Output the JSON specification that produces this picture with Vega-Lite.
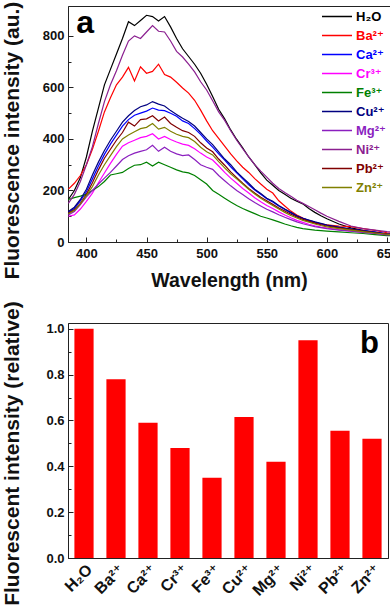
{
  "$schema": "https://vega.github.io/schema/vega-lite/v6.json",
  "padding": {"left": 0, "top": 0, "right": 0, "bottom": 0},
  "bounds": "flush",
  "spacing": 81,
  "resolve": {"legend": {"color": "independent"}, "scale": {"x": "independent", "y": "independent"}},
  "config": {
    "font": "Liberation Sans, DejaVu Sans",
    "view": {"stroke": "#222", "strokeWidth": 1},
    "axis": {"grid": false, "domainColor": "#222", "tickColor": "#222", "tickSize": -5, "labelFont": "Liberation Sans, DejaVu Sans", "labelFontWeight": "bold", "labelFontSize": 13, "labelColor": "#111", "titleFont": "Liberation Sans, DejaVu Sans", "titleFontWeight": "bold", "titleColor": "#111", "titleFontSize": 21, "labelPadding": 9}
  },
  "vconcat": [
    {
      "width": 322,
      "height": 236,
      "resolve": {"axis": {"x": "independent", "y": "independent"}},
      "layer": [
        {
          "data": {"values": [
        {"ion":"H₂O","wl":385,"I":165},{"ion":"H₂O","wl":390,"I":200},{"ion":"H₂O","wl":395,"I":250},{"ion":"H₂O","wl":400,"I":330},{"ion":"H₂O","wl":405,"I":430},{"ion":"H₂O","wl":410,"I":520},{"ion":"H₂O","wl":415,"I":610},{"ion":"H₂O","wl":420,"I":670},{"ion":"H₂O","wl":425,"I":730},{"ion":"H₂O","wl":430,"I":790},
        {"ion":"H₂O","wl":435,"I":855},{"ion":"H₂O","wl":440,"I":840},{"ion":"H₂O","wl":445,"I":860},{"ion":"H₂O","wl":450,"I":880},{"ion":"H₂O","wl":455,"I":875},{"ion":"H₂O","wl":460,"I":858},{"ion":"H₂O","wl":465,"I":875},{"ion":"H₂O","wl":470,"I":835},{"ion":"H₂O","wl":475,"I":790},{"ion":"H₂O","wl":480,"I":750},
        {"ion":"H₂O","wl":485,"I":720},{"ion":"H₂O","wl":490,"I":690},{"ion":"H₂O","wl":495,"I":655},{"ion":"H₂O","wl":500,"I":612},{"ion":"H₂O","wl":505,"I":565},{"ion":"H₂O","wl":510,"I":515},{"ion":"H₂O","wl":515,"I":478},{"ion":"H₂O","wl":520,"I":435},{"ion":"H₂O","wl":525,"I":398},{"ion":"H₂O","wl":530,"I":365},
        {"ion":"H₂O","wl":535,"I":330},{"ion":"H₂O","wl":540,"I":300},{"ion":"H₂O","wl":545,"I":268},{"ion":"H₂O","wl":550,"I":240},{"ion":"H₂O","wl":555,"I":220},{"ion":"H₂O","wl":560,"I":200},{"ion":"H₂O","wl":565,"I":185},{"ion":"H₂O","wl":570,"I":170},{"ion":"H₂O","wl":575,"I":158},{"ion":"H₂O","wl":580,"I":148},
        {"ion":"H₂O","wl":585,"I":130},{"ion":"H₂O","wl":590,"I":115},{"ion":"H₂O","wl":595,"I":102},{"ion":"H₂O","wl":600,"I":90},{"ion":"H₂O","wl":610,"I":70},{"ion":"H₂O","wl":620,"I":55},{"ion":"H₂O","wl":630,"I":45},{"ion":"H₂O","wl":640,"I":38},{"ion":"H₂O","wl":650,"I":30},{"ion":"H₂O","wl":655,"I":28},

        {"ion":"Ba²⁺","wl":385,"I":205},{"ion":"Ba²⁺","wl":390,"I":228},{"ion":"Ba²⁺","wl":395,"I":258},{"ion":"Ba²⁺","wl":400,"I":300},{"ion":"Ba²⁺","wl":405,"I":360},{"ion":"Ba²⁺","wl":410,"I":430},{"ion":"Ba²⁺","wl":415,"I":505},{"ion":"Ba²⁺","wl":420,"I":560},{"ion":"Ba²⁺","wl":425,"I":610},{"ion":"Ba²⁺","wl":430,"I":640},
        {"ion":"Ba²⁺","wl":435,"I":678},{"ion":"Ba²⁺","wl":440,"I":625},{"ion":"Ba²⁺","wl":445,"I":680},{"ion":"Ba²⁺","wl":450,"I":655},{"ion":"Ba²⁺","wl":455,"I":662},{"ion":"Ba²⁺","wl":460,"I":690},{"ion":"Ba²⁺","wl":465,"I":650},{"ion":"Ba²⁺","wl":470,"I":640},{"ion":"Ba²⁺","wl":475,"I":620},{"ion":"Ba²⁺","wl":480,"I":598},
        {"ion":"Ba²⁺","wl":485,"I":578},{"ion":"Ba²⁺","wl":490,"I":550},{"ion":"Ba²⁺","wl":495,"I":512},{"ion":"Ba²⁺","wl":500,"I":470},{"ion":"Ba²⁺","wl":505,"I":432},{"ion":"Ba²⁺","wl":510,"I":402},{"ion":"Ba²⁺","wl":515,"I":372},{"ion":"Ba²⁺","wl":520,"I":342},{"ion":"Ba²⁺","wl":525,"I":315},{"ion":"Ba²⁺","wl":530,"I":290},
        {"ion":"Ba²⁺","wl":535,"I":270},{"ion":"Ba²⁺","wl":540,"I":246},{"ion":"Ba²⁺","wl":545,"I":225},{"ion":"Ba²⁺","wl":550,"I":205},{"ion":"Ba²⁺","wl":555,"I":190},{"ion":"Ba²⁺","wl":560,"I":160},{"ion":"Ba²⁺","wl":565,"I":140},{"ion":"Ba²⁺","wl":570,"I":120},{"ion":"Ba²⁺","wl":575,"I":105},{"ion":"Ba²⁺","wl":580,"I":93},
        {"ion":"Ba²⁺","wl":585,"I":82},{"ion":"Ba²⁺","wl":590,"I":75},{"ion":"Ba²⁺","wl":595,"I":70},{"ion":"Ba²⁺","wl":600,"I":67},{"ion":"Ba²⁺","wl":610,"I":62},{"ion":"Ba²⁺","wl":620,"I":60},{"ion":"Ba²⁺","wl":630,"I":52},{"ion":"Ba²⁺","wl":640,"I":45},{"ion":"Ba²⁺","wl":650,"I":36},{"ion":"Ba²⁺","wl":655,"I":34},

        {"ion":"Ca²⁺","wl":385,"I":115},{"ion":"Ca²⁺","wl":390,"I":130},{"ion":"Ca²⁺","wl":395,"I":160},{"ion":"Ca²⁺","wl":400,"I":195},{"ion":"Ca²⁺","wl":405,"I":245},{"ion":"Ca²⁺","wl":410,"I":295},{"ion":"Ca²⁺","wl":415,"I":340},{"ion":"Ca²⁺","wl":420,"I":380},{"ion":"Ca²⁺","wl":425,"I":415},{"ion":"Ca²⁺","wl":430,"I":450},
        {"ion":"Ca²⁺","wl":435,"I":475},{"ion":"Ca²⁺","wl":440,"I":492},{"ion":"Ca²⁺","wl":445,"I":500},{"ion":"Ca²⁺","wl":450,"I":508},{"ion":"Ca²⁺","wl":455,"I":520},{"ion":"Ca²⁺","wl":460,"I":512},{"ion":"Ca²⁺","wl":465,"I":510},{"ion":"Ca²⁺","wl":470,"I":500},{"ion":"Ca²⁺","wl":475,"I":488},{"ion":"Ca²⁺","wl":480,"I":470},
        {"ion":"Ca²⁺","wl":485,"I":460},{"ion":"Ca²⁺","wl":490,"I":440},{"ion":"Ca²⁺","wl":495,"I":418},{"ion":"Ca²⁺","wl":500,"I":392},{"ion":"Ca²⁺","wl":505,"I":368},{"ion":"Ca²⁺","wl":510,"I":342},{"ion":"Ca²⁺","wl":515,"I":318},{"ion":"Ca²⁺","wl":520,"I":292},{"ion":"Ca²⁺","wl":525,"I":268},{"ion":"Ca²⁺","wl":530,"I":245},
        {"ion":"Ca²⁺","wl":535,"I":222},{"ion":"Ca²⁺","wl":540,"I":202},{"ion":"Ca²⁺","wl":545,"I":185},{"ion":"Ca²⁺","wl":550,"I":168},{"ion":"Ca²⁺","wl":555,"I":155},{"ion":"Ca²⁺","wl":560,"I":140},{"ion":"Ca²⁺","wl":565,"I":126},{"ion":"Ca²⁺","wl":570,"I":113},{"ion":"Ca²⁺","wl":575,"I":100},{"ion":"Ca²⁺","wl":580,"I":92},
        {"ion":"Ca²⁺","wl":585,"I":84},{"ion":"Ca²⁺","wl":590,"I":77},{"ion":"Ca²⁺","wl":595,"I":71},{"ion":"Ca²⁺","wl":600,"I":65},{"ion":"Ca²⁺","wl":610,"I":57},{"ion":"Ca²⁺","wl":620,"I":50},{"ion":"Ca²⁺","wl":630,"I":44},{"ion":"Ca²⁺","wl":640,"I":38},{"ion":"Ca²⁺","wl":650,"I":32},{"ion":"Ca²⁺","wl":655,"I":30},

        {"ion":"Cr³⁺","wl":385,"I":100},{"ion":"Cr³⁺","wl":390,"I":105},{"ion":"Cr³⁺","wl":395,"I":128},{"ion":"Cr³⁺","wl":400,"I":158},{"ion":"Cr³⁺","wl":405,"I":190},{"ion":"Cr³⁺","wl":410,"I":230},{"ion":"Cr³⁺","wl":415,"I":268},{"ion":"Cr³⁺","wl":420,"I":305},{"ion":"Cr³⁺","wl":425,"I":340},{"ion":"Cr³⁺","wl":430,"I":372},
        {"ion":"Cr³⁺","wl":435,"I":385},{"ion":"Cr³⁺","wl":440,"I":395},{"ion":"Cr³⁺","wl":445,"I":405},{"ion":"Cr³⁺","wl":450,"I":410},{"ion":"Cr³⁺","wl":455,"I":420},{"ion":"Cr³⁺","wl":460,"I":400},{"ion":"Cr³⁺","wl":465,"I":410},{"ion":"Cr³⁺","wl":470,"I":398},{"ion":"Cr³⁺","wl":475,"I":388},{"ion":"Cr³⁺","wl":480,"I":380},
        {"ion":"Cr³⁺","wl":485,"I":375},{"ion":"Cr³⁺","wl":490,"I":362},{"ion":"Cr³⁺","wl":495,"I":345},{"ion":"Cr³⁺","wl":500,"I":330},{"ion":"Cr³⁺","wl":505,"I":318},{"ion":"Cr³⁺","wl":510,"I":295},{"ion":"Cr³⁺","wl":515,"I":270},{"ion":"Cr³⁺","wl":520,"I":248},{"ion":"Cr³⁺","wl":525,"I":228},{"ion":"Cr³⁺","wl":530,"I":208},
        {"ion":"Cr³⁺","wl":535,"I":190},{"ion":"Cr³⁺","wl":540,"I":172},{"ion":"Cr³⁺","wl":545,"I":156},{"ion":"Cr³⁺","wl":550,"I":142},{"ion":"Cr³⁺","wl":555,"I":130},{"ion":"Cr³⁺","wl":560,"I":117},{"ion":"Cr³⁺","wl":565,"I":105},{"ion":"Cr³⁺","wl":570,"I":94},{"ion":"Cr³⁺","wl":575,"I":84},{"ion":"Cr³⁺","wl":580,"I":76},
        {"ion":"Cr³⁺","wl":585,"I":69},{"ion":"Cr³⁺","wl":590,"I":63},{"ion":"Cr³⁺","wl":595,"I":58},{"ion":"Cr³⁺","wl":600,"I":54},{"ion":"Cr³⁺","wl":610,"I":48},{"ion":"Cr³⁺","wl":620,"I":42},{"ion":"Cr³⁺","wl":630,"I":37},{"ion":"Cr³⁺","wl":640,"I":33},{"ion":"Cr³⁺","wl":650,"I":28},{"ion":"Cr³⁺","wl":655,"I":27},

        {"ion":"Fe³⁺","wl":385,"I":165},{"ion":"Fe³⁺","wl":390,"I":172},{"ion":"Fe³⁺","wl":395,"I":178},{"ion":"Fe³⁺","wl":400,"I":185},{"ion":"Fe³⁺","wl":405,"I":200},{"ion":"Fe³⁺","wl":410,"I":215},{"ion":"Fe³⁺","wl":415,"I":235},{"ion":"Fe³⁺","wl":420,"I":260},{"ion":"Fe³⁺","wl":425,"I":265},{"ion":"Fe³⁺","wl":430,"I":270},
        {"ion":"Fe³⁺","wl":435,"I":285},{"ion":"Fe³⁺","wl":440,"I":298},{"ion":"Fe³⁺","wl":445,"I":300},{"ion":"Fe³⁺","wl":450,"I":310},{"ion":"Fe³⁺","wl":455,"I":295},{"ion":"Fe³⁺","wl":460,"I":310},{"ion":"Fe³⁺","wl":465,"I":300},{"ion":"Fe³⁺","wl":470,"I":290},{"ion":"Fe³⁺","wl":475,"I":280},{"ion":"Fe³⁺","wl":480,"I":272},
        {"ion":"Fe³⁺","wl":485,"I":268},{"ion":"Fe³⁺","wl":490,"I":258},{"ion":"Fe³⁺","wl":495,"I":242},{"ion":"Fe³⁺","wl":500,"I":225},{"ion":"Fe³⁺","wl":505,"I":200},{"ion":"Fe³⁺","wl":510,"I":185},{"ion":"Fe³⁺","wl":515,"I":170},{"ion":"Fe³⁺","wl":520,"I":155},{"ion":"Fe³⁺","wl":525,"I":142},{"ion":"Fe³⁺","wl":530,"I":130},
        {"ion":"Fe³⁺","wl":535,"I":120},{"ion":"Fe³⁺","wl":540,"I":110},{"ion":"Fe³⁺","wl":545,"I":100},{"ion":"Fe³⁺","wl":550,"I":93},{"ion":"Fe³⁺","wl":555,"I":86},{"ion":"Fe³⁺","wl":560,"I":78},{"ion":"Fe³⁺","wl":565,"I":70},{"ion":"Fe³⁺","wl":570,"I":63},{"ion":"Fe³⁺","wl":575,"I":57},{"ion":"Fe³⁺","wl":580,"I":52},
        {"ion":"Fe³⁺","wl":585,"I":49},{"ion":"Fe³⁺","wl":590,"I":46},{"ion":"Fe³⁺","wl":595,"I":44},{"ion":"Fe³⁺","wl":600,"I":42},{"ion":"Fe³⁺","wl":610,"I":39},{"ion":"Fe³⁺","wl":620,"I":36},{"ion":"Fe³⁺","wl":630,"I":33},{"ion":"Fe³⁺","wl":640,"I":29},{"ion":"Fe³⁺","wl":650,"I":25},{"ion":"Fe³⁺","wl":655,"I":24},

        {"ion":"Cu²⁺","wl":385,"I":118},{"ion":"Cu²⁺","wl":390,"I":135},{"ion":"Cu²⁺","wl":395,"I":165},{"ion":"Cu²⁺","wl":400,"I":205},{"ion":"Cu²⁺","wl":405,"I":260},{"ion":"Cu²⁺","wl":410,"I":310},{"ion":"Cu²⁺","wl":415,"I":355},{"ion":"Cu²⁺","wl":420,"I":395},{"ion":"Cu²⁺","wl":425,"I":430},{"ion":"Cu²⁺","wl":430,"I":465},
        {"ion":"Cu²⁺","wl":435,"I":490},{"ion":"Cu²⁺","wl":440,"I":510},{"ion":"Cu²⁺","wl":445,"I":525},{"ion":"Cu²⁺","wl":450,"I":532},{"ion":"Cu²⁺","wl":455,"I":545},{"ion":"Cu²⁺","wl":460,"I":535},{"ion":"Cu²⁺","wl":465,"I":528},{"ion":"Cu²⁺","wl":470,"I":510},{"ion":"Cu²⁺","wl":475,"I":495},{"ion":"Cu²⁺","wl":480,"I":480},
        {"ion":"Cu²⁺","wl":485,"I":468},{"ion":"Cu²⁺","wl":490,"I":450},{"ion":"Cu²⁺","wl":495,"I":425},{"ion":"Cu²⁺","wl":500,"I":400},{"ion":"Cu²⁺","wl":505,"I":378},{"ion":"Cu²⁺","wl":510,"I":350},{"ion":"Cu²⁺","wl":515,"I":322},{"ion":"Cu²⁺","wl":520,"I":300},{"ion":"Cu²⁺","wl":525,"I":272},{"ion":"Cu²⁺","wl":530,"I":250},
        {"ion":"Cu²⁺","wl":535,"I":228},{"ion":"Cu²⁺","wl":540,"I":205},{"ion":"Cu²⁺","wl":545,"I":188},{"ion":"Cu²⁺","wl":550,"I":170},{"ion":"Cu²⁺","wl":555,"I":158},{"ion":"Cu²⁺","wl":560,"I":142},{"ion":"Cu²⁺","wl":565,"I":128},{"ion":"Cu²⁺","wl":570,"I":115},{"ion":"Cu²⁺","wl":575,"I":102},{"ion":"Cu²⁺","wl":580,"I":92},
        {"ion":"Cu²⁺","wl":585,"I":85},{"ion":"Cu²⁺","wl":590,"I":78},{"ion":"Cu²⁺","wl":595,"I":72},{"ion":"Cu²⁺","wl":600,"I":66},{"ion":"Cu²⁺","wl":610,"I":58},{"ion":"Cu²⁺","wl":620,"I":50},{"ion":"Cu²⁺","wl":630,"I":43},{"ion":"Cu²⁺","wl":640,"I":37},{"ion":"Cu²⁺","wl":650,"I":31},{"ion":"Cu²⁺","wl":655,"I":30},

        {"ion":"Mg²⁺","wl":385,"I":105},{"ion":"Mg²⁺","wl":390,"I":118},{"ion":"Mg²⁺","wl":395,"I":145},{"ion":"Mg²⁺","wl":400,"I":175},{"ion":"Mg²⁺","wl":405,"I":200},{"ion":"Mg²⁺","wl":410,"I":225},{"ion":"Mg²⁺","wl":415,"I":248},{"ion":"Mg²⁺","wl":420,"I":270},{"ion":"Mg²⁺","wl":425,"I":295},{"ion":"Mg²⁺","wl":430,"I":320},
        {"ion":"Mg²⁺","wl":435,"I":335},{"ion":"Mg²⁺","wl":440,"I":345},{"ion":"Mg²⁺","wl":445,"I":352},{"ion":"Mg²⁺","wl":450,"I":358},{"ion":"Mg²⁺","wl":455,"I":375},{"ion":"Mg²⁺","wl":460,"I":352},{"ion":"Mg²⁺","wl":465,"I":368},{"ion":"Mg²⁺","wl":470,"I":352},{"ion":"Mg²⁺","wl":475,"I":342},{"ion":"Mg²⁺","wl":480,"I":335},
        {"ion":"Mg²⁺","wl":485,"I":338},{"ion":"Mg²⁺","wl":490,"I":320},{"ion":"Mg²⁺","wl":495,"I":300},{"ion":"Mg²⁺","wl":500,"I":290},{"ion":"Mg²⁺","wl":505,"I":282},{"ion":"Mg²⁺","wl":510,"I":258},{"ion":"Mg²⁺","wl":515,"I":238},{"ion":"Mg²⁺","wl":520,"I":218},{"ion":"Mg²⁺","wl":525,"I":200},{"ion":"Mg²⁺","wl":530,"I":184},
        {"ion":"Mg²⁺","wl":535,"I":168},{"ion":"Mg²⁺","wl":540,"I":153},{"ion":"Mg²⁺","wl":545,"I":140},{"ion":"Mg²⁺","wl":550,"I":127},{"ion":"Mg²⁺","wl":555,"I":117},{"ion":"Mg²⁺","wl":560,"I":106},{"ion":"Mg²⁺","wl":565,"I":96},{"ion":"Mg²⁺","wl":570,"I":87},{"ion":"Mg²⁺","wl":575,"I":78},{"ion":"Mg²⁺","wl":580,"I":71},
        {"ion":"Mg²⁺","wl":585,"I":65},{"ion":"Mg²⁺","wl":590,"I":60},{"ion":"Mg²⁺","wl":595,"I":56},{"ion":"Mg²⁺","wl":600,"I":52},{"ion":"Mg²⁺","wl":610,"I":46},{"ion":"Mg²⁺","wl":620,"I":42},{"ion":"Mg²⁺","wl":630,"I":37},{"ion":"Mg²⁺","wl":640,"I":33},{"ion":"Mg²⁺","wl":650,"I":28},{"ion":"Mg²⁺","wl":655,"I":27},

        {"ion":"Ni²⁺","wl":385,"I":150},{"ion":"Ni²⁺","wl":390,"I":185},{"ion":"Ni²⁺","wl":395,"I":235},{"ion":"Ni²⁺","wl":400,"I":300},{"ion":"Ni²⁺","wl":405,"I":370},{"ion":"Ni²⁺","wl":410,"I":460},{"ion":"Ni²⁺","wl":415,"I":545},{"ion":"Ni²⁺","wl":420,"I":610},{"ion":"Ni²⁺","wl":425,"I":665},{"ion":"Ni²⁺","wl":430,"I":725},
        {"ion":"Ni²⁺","wl":435,"I":780},{"ion":"Ni²⁺","wl":440,"I":800},{"ion":"Ni²⁺","wl":445,"I":790},{"ion":"Ni²⁺","wl":450,"I":815},{"ion":"Ni²⁺","wl":455,"I":840},{"ion":"Ni²⁺","wl":460,"I":818},{"ion":"Ni²⁺","wl":465,"I":815},{"ion":"Ni²⁺","wl":470,"I":780},{"ion":"Ni²⁺","wl":475,"I":740},{"ion":"Ni²⁺","wl":480,"I":718},
        {"ion":"Ni²⁺","wl":485,"I":690},{"ion":"Ni²⁺","wl":490,"I":660},{"ion":"Ni²⁺","wl":495,"I":622},{"ion":"Ni²⁺","wl":500,"I":590},{"ion":"Ni²⁺","wl":505,"I":548},{"ion":"Ni²⁺","wl":510,"I":505},{"ion":"Ni²⁺","wl":515,"I":472},{"ion":"Ni²⁺","wl":520,"I":432},{"ion":"Ni²⁺","wl":525,"I":395},{"ion":"Ni²⁺","wl":530,"I":362},
        {"ion":"Ni²⁺","wl":535,"I":330},{"ion":"Ni²⁺","wl":540,"I":300},{"ion":"Ni²⁺","wl":545,"I":275},{"ion":"Ni²⁺","wl":550,"I":252},{"ion":"Ni²⁺","wl":555,"I":228},{"ion":"Ni²⁺","wl":560,"I":208},{"ion":"Ni²⁺","wl":565,"I":192},{"ion":"Ni²⁺","wl":570,"I":178},{"ion":"Ni²⁺","wl":575,"I":162},{"ion":"Ni²⁺","wl":580,"I":150},
        {"ion":"Ni²⁺","wl":585,"I":138},{"ion":"Ni²⁺","wl":590,"I":125},{"ion":"Ni²⁺","wl":595,"I":112},{"ion":"Ni²⁺","wl":600,"I":100},{"ion":"Ni²⁺","wl":610,"I":80},{"ion":"Ni²⁺","wl":620,"I":62},{"ion":"Ni²⁺","wl":630,"I":52},{"ion":"Ni²⁺","wl":640,"I":46},{"ion":"Ni²⁺","wl":650,"I":40},{"ion":"Ni²⁺","wl":655,"I":38},

        {"ion":"Pb²⁺","wl":385,"I":112},{"ion":"Pb²⁺","wl":390,"I":125},{"ion":"Pb²⁺","wl":395,"I":150},{"ion":"Pb²⁺","wl":400,"I":185},{"ion":"Pb²⁺","wl":405,"I":230},{"ion":"Pb²⁺","wl":410,"I":280},{"ion":"Pb²⁺","wl":415,"I":325},{"ion":"Pb²⁺","wl":420,"I":360},{"ion":"Pb²⁺","wl":425,"I":395},{"ion":"Pb²⁺","wl":430,"I":425},
        {"ion":"Pb²⁺","wl":435,"I":465},{"ion":"Pb²⁺","wl":440,"I":450},{"ion":"Pb²⁺","wl":445,"I":475},{"ion":"Pb²⁺","wl":450,"I":478},{"ion":"Pb²⁺","wl":455,"I":490},{"ion":"Pb²⁺","wl":460,"I":470},{"ion":"Pb²⁺","wl":465,"I":485},{"ion":"Pb²⁺","wl":470,"I":460},{"ion":"Pb²⁺","wl":475,"I":445},{"ion":"Pb²⁺","wl":480,"I":432},
        {"ion":"Pb²⁺","wl":485,"I":425},{"ion":"Pb²⁺","wl":490,"I":410},{"ion":"Pb²⁺","wl":495,"I":385},{"ion":"Pb²⁺","wl":500,"I":365},{"ion":"Pb²⁺","wl":505,"I":350},{"ion":"Pb²⁺","wl":510,"I":322},{"ion":"Pb²⁺","wl":515,"I":298},{"ion":"Pb²⁺","wl":520,"I":272},{"ion":"Pb²⁺","wl":525,"I":250},{"ion":"Pb²⁺","wl":530,"I":228},
        {"ion":"Pb²⁺","wl":535,"I":208},{"ion":"Pb²⁺","wl":540,"I":190},{"ion":"Pb²⁺","wl":545,"I":174},{"ion":"Pb²⁺","wl":550,"I":160},{"ion":"Pb²⁺","wl":555,"I":146},{"ion":"Pb²⁺","wl":560,"I":132},{"ion":"Pb²⁺","wl":565,"I":120},{"ion":"Pb²⁺","wl":570,"I":108},{"ion":"Pb²⁺","wl":575,"I":97},{"ion":"Pb²⁺","wl":580,"I":88},
        {"ion":"Pb²⁺","wl":585,"I":80},{"ion":"Pb²⁺","wl":590,"I":73},{"ion":"Pb²⁺","wl":595,"I":67},{"ion":"Pb²⁺","wl":600,"I":62},{"ion":"Pb²⁺","wl":610,"I":55},{"ion":"Pb²⁺","wl":620,"I":48},{"ion":"Pb²⁺","wl":630,"I":42},{"ion":"Pb²⁺","wl":640,"I":36},{"ion":"Pb²⁺","wl":650,"I":31},{"ion":"Pb²⁺","wl":655,"I":29},

        {"ion":"Zn²⁺","wl":385,"I":110},{"ion":"Zn²⁺","wl":390,"I":122},{"ion":"Zn²⁺","wl":395,"I":148},{"ion":"Zn²⁺","wl":400,"I":180},{"ion":"Zn²⁺","wl":405,"I":215},{"ion":"Zn²⁺","wl":410,"I":260},{"ion":"Zn²⁺","wl":415,"I":300},{"ion":"Zn²⁺","wl":420,"I":335},{"ion":"Zn²⁺","wl":425,"I":370},{"ion":"Zn²⁺","wl":430,"I":400},
        {"ion":"Zn²⁺","wl":435,"I":415},{"ion":"Zn²⁺","wl":440,"I":428},{"ion":"Zn²⁺","wl":445,"I":440},{"ion":"Zn²⁺","wl":450,"I":445},{"ion":"Zn²⁺","wl":455,"I":460},{"ion":"Zn²⁺","wl":460,"I":438},{"ion":"Zn²⁺","wl":465,"I":445},{"ion":"Zn²⁺","wl":470,"I":430},{"ion":"Zn²⁺","wl":475,"I":418},{"ion":"Zn²⁺","wl":480,"I":410},
        {"ion":"Zn²⁺","wl":485,"I":405},{"ion":"Zn²⁺","wl":490,"I":390},{"ion":"Zn²⁺","wl":495,"I":368},{"ion":"Zn²⁺","wl":500,"I":350},{"ion":"Zn²⁺","wl":505,"I":338},{"ion":"Zn²⁺","wl":510,"I":312},{"ion":"Zn²⁺","wl":515,"I":288},{"ion":"Zn²⁺","wl":520,"I":265},{"ion":"Zn²⁺","wl":525,"I":245},{"ion":"Zn²⁺","wl":530,"I":225},
        {"ion":"Zn²⁺","wl":535,"I":205},{"ion":"Zn²⁺","wl":540,"I":186},{"ion":"Zn²⁺","wl":545,"I":170},{"ion":"Zn²⁺","wl":550,"I":155},{"ion":"Zn²⁺","wl":555,"I":142},{"ion":"Zn²⁺","wl":560,"I":128},{"ion":"Zn²⁺","wl":565,"I":115},{"ion":"Zn²⁺","wl":570,"I":103},{"ion":"Zn²⁺","wl":575,"I":93},{"ion":"Zn²⁺","wl":580,"I":84},
        {"ion":"Zn²⁺","wl":585,"I":77},{"ion":"Zn²⁺","wl":590,"I":70},{"ion":"Zn²⁺","wl":595,"I":64},{"ion":"Zn²⁺","wl":600,"I":59},{"ion":"Zn²⁺","wl":610,"I":52},{"ion":"Zn²⁺","wl":620,"I":46},{"ion":"Zn²⁺","wl":630,"I":40},{"ion":"Zn²⁺","wl":640,"I":35},{"ion":"Zn²⁺","wl":650,"I":30},{"ion":"Zn²⁺","wl":655,"I":28}
          ]},
          "mark": {"type": "line", "strokeWidth": 1.2, "clip": true},
          "encoding": {
            "x": {"field": "wl", "type": "quantitative", "scale": {"domain": [384.7, 652.5], "nice": false, "zero": false},
                  "axis": {"orient": "bottom", "values": [400, 450, 500, 550, 600, 650], "title": "Wavelength (nm)", "titleFontSize": 19.5, "titleBaseline": "alphabetic", "titleY": 44, "labelPadding": 10}},
            "y": {"field": "I", "type": "quantitative", "scale": {"domain": [0, 916], "nice": false},
                  "axis": {"orient": "left", "values": [0, 200, 400, 600, 800], "title": "Fluorescence intensity (au.)", "titleX": -50, "titleY": 134, "titleBaseline": "alphabetic"}},
            "color": {"field": "ion", "type": "nominal",
                      "scale": {"domain": ["H₂O","Ba²⁺","Ca²⁺","Cr³⁺","Fe³⁺","Cu²⁺","Mg²⁺","Ni²⁺","Pb²⁺","Zn²⁺"],
                                "range": ["#000000","#ff0000","#0000ff","#ff00ff","#008000","#000080","#8b1fbf","#8b2090","#800000","#808000"]},
                      "legend": {"orient": "top-right", "offset": 4, "title": null, "symbolType": "stroke", "symbolSize": 900, "symbolStrokeWidth": 1.3, "labelFontSize": 13, "labelFontWeight": "bold", "labelFont": "Liberation Sans, DejaVu Sans", "labelOffset": 3, "clipHeight": 13, "rowPadding": 5, "padding": 0,
                                 "labelColor": {"expr": "['#000000','#ff0000','#0000ff','#ff00ff','#008000','#000080','#8b1fbf','#8b2090','#800000','#808000'][datum.index]"}}}
          }
        },
        {
          "data": {"values": [{"tag": "a"}]},
          "mark": {"type": "text", "fontSize": 32, "fontWeight": "bold", "align": "left", "baseline": "alphabetic", "color": "#000"},
          "encoding": {
            "text": {"field": "tag"},
            "x": {"datum": 391.5, "axis": {"orient": "bottom", "values": [425, 475, 525, 575, 625], "labels": false, "domain": false, "tickSize": -3, "title": null}},
            "y": {"datum": 811, "axis": {"orient": "left", "values": [100, 300, 500, 700], "labels": false, "domain": false, "tickSize": -3, "title": null}}
          }
        }
      ]
    },
    {
      "width": 320,
      "height": 235,
      "resolve": {"axis": {"y": "independent"}},
      "layer": [
        {
          "data": {"values": [
            {"ion": "H₂O", "rel": 1.0},
            {"ion": "Ba²⁺", "rel": 0.78},
            {"ion": "Ca²⁺", "rel": 0.59},
            {"ion": "Cr³⁺", "rel": 0.48},
            {"ion": "Fe³⁺", "rel": 0.35},
            {"ion": "Cu²⁺", "rel": 0.615},
            {"ion": "Mg²⁺", "rel": 0.42},
            {"ion": "Ni²⁺", "rel": 0.95},
            {"ion": "Pb²⁺", "rel": 0.555},
            {"ion": "Zn²⁺", "rel": 0.52}
          ]},
          "mark": {"type": "bar", "color": "#ff0000"},
          "encoding": {
            "x": {"field": "ion", "type": "nominal", "sort": null,
                  "scale": {"domain": ["H₂O","Ba²⁺","Ca²⁺","Cr³⁺","Fe³⁺","Cu²⁺","Mg²⁺","Ni²⁺","Pb²⁺","Zn²⁺"], "paddingInner": 0.4, "paddingOuter": 0.2},
                  "axis": {"title": null, "labelAngle": -45, "labelFontSize": 16, "labelFontWeight": "bold", "labelPadding": 8}},
            "y": {"field": "rel", "type": "quantitative", "scale": {"domain": [0, 1.025], "nice": false},
                  "axis": {"orient": "left", "values": [0, 0.2, 0.4, 0.6, 0.8, 1.0], "format": ".1f", "title": "Fluorescent intensity (relative)", "titleX": -50, "titleY": 130, "titleBaseline": "alphabetic"}}
          }
        },
        {
          "data": {"values": [{"tag": "b"}]},
          "mark": {"type": "text", "fontSize": 31, "fontWeight": "bold", "align": "right", "baseline": "alphabetic", "dx": 7, "color": "#000"},
          "encoding": {
            "text": {"field": "tag"},
            "x": {"datum": "Zn²⁺", "type": "nominal"},
            "y": {"datum": 0.892, "axis": {"orient": "left", "values": [0.1, 0.3, 0.5, 0.7, 0.9], "labels": false, "domain": false, "tickSize": -3, "title": null}}
          }
        }
      ]
    }
  ]
}
